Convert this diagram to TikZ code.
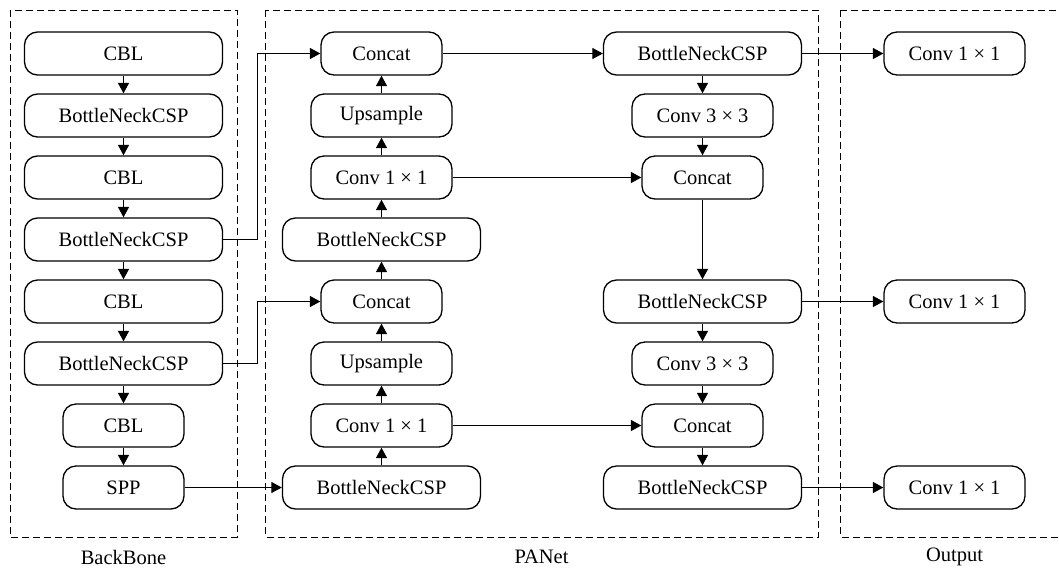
\documentclass[tikz,border=0pt]{standalone}
\usepackage{fontspec}
\setmainfont{Liberation Serif}
\usetikzlibrary{arrows.meta}

\begin{document}
\begin{tikzpicture}[x=1pt, y=-1pt,
    blk/.style={rectangle, rounded corners=13pt, draw, line width=1.3pt,
      minimum height=43pt, inner sep=0pt, font=\fontsize{20.5}{24}\selectfont},
    wide/.style={blk, minimum width=198pt},
    mid/.style={blk, minimum width=141pt},
    narrow/.style={blk, minimum width=121pt},
    frame/.style={draw, line width=1pt, dash pattern=on 7pt off 4pt},
    >={Triangle[length=10.5pt,width=11pt]}, line width=1.1pt]
  \useasboundingbox (0,0) rectangle (1059,571);
  % groups
  \draw[frame] (10,10) rectangle (237,537);
  \draw[frame] (265.5,10) rectangle (818,537);
  \draw[frame] (840.5,10) rectangle (1070,537);
  \node[font=\fontsize{20.5}{24}\selectfont] (lbb) at (123.5,557) {BackBone};
  \node[font=\fontsize{20.5}{24}\selectfont] (lpa) at (541.5,557) {PANet};
  \node[font=\fontsize{20.5}{24}\selectfont] (lout) at (954.5,557) {Output};
  % backbone
  \node[wide] (bb1) at (123.5,53.5) {CBL};
  \node[wide] (bb2) at (123.5,115.5) {BottleNeckCSP};
  \node[wide] (bb3) at (123.5,177.5) {CBL};
  \node[wide] (bb4) at (123.5,239.5) {BottleNeckCSP};
  \node[wide] (bb5) at (123.5,301.5) {CBL};
  \node[wide] (bb6) at (123.5,363.5) {BottleNeckCSP};
  \node[narrow] (bb7) at (123.5,425.5) {CBL};
  \node[narrow] (bb8) at (123.5,487.5) {SPP};
  % PANet, up path
  \node[narrow] (pl1) at (381.5,53.5) {Concat};
  \node[mid] (pl2) at (381.5,115.5) {Upsample};
  \node[mid] (pl3) at (381.5,177.5) {Conv 1 × 1};
  \node[wide] (pl4) at (381.5,239.5) {BottleNeckCSP};
  \node[narrow] (pl5) at (381.5,301.5) {Concat};
  \node[mid] (pl6) at (381.5,363.5) {Upsample};
  \node[mid] (pl7) at (381.5,425.5) {Conv 1 × 1};
  \node[wide] (pl8) at (381.5,487.5) {BottleNeckCSP};
  % PANet, down path
  \node[wide] (pr1) at (702.5,53.5) {BottleNeckCSP};
  \node[mid] (pr2) at (702.5,115.5) {Conv 3 × 3};
  \node[narrow] (pr3) at (702.5,177.5) {Concat};
  \node[wide] (pr5) at (702.5,301.5) {BottleNeckCSP};
  \node[mid] (pr6) at (702.5,363.5) {Conv 3 × 3};
  \node[narrow] (pr7) at (702.5,425.5) {Concat};
  \node[wide] (pr8) at (702.5,487.5) {BottleNeckCSP};
  % outputs
  \node[mid] (out1) at (954.5,53.5) {Conv 1 × 1};
  \node[mid] (out5) at (954.5,301.5) {Conv 1 × 1};
  \node[mid] (out8) at (954.5,487.5) {Conv 1 × 1};

  \draw[->] (bb1) -- (bb2);
  \draw[->] (bb2) -- (bb3);
  \draw[->] (bb3) -- (bb4);
  \draw[->] (bb4) -- (bb5);
  \draw[->] (bb5) -- (bb6);
  \draw[->] (bb6) -- (bb7);
  \draw[->] (bb7) -- (bb8);
  \draw[->] (bb4.east) -- ++(34,0) |- (pl1.west);
  \draw[->] (bb6.east) -- ++(34,0) |- (pl5.west);
  \draw[->] (bb8) -- (pl8);

  \draw[->] (pl8) -- (pl7);
  \draw[->] (pl7) -- (pl6);
  \draw[->] (pl6) -- (pl5);
  \draw[->] (pl5) -- (pl4);
  \draw[->] (pl4) -- (pl3);
  \draw[->] (pl3) -- (pl2);
  \draw[->] (pl2) -- (pl1);
  \draw[->] (pl1) -- (pr1);
  \draw[->] (pl3) -- (pr3);
  \draw[->] (pl7) -- (pr7);

  \draw[->] (pr1) -- (pr2);
  \draw[->] (pr2) -- (pr3);
  \draw[->] (pr3) -- (pr5);
  \draw[->] (pr5) -- (pr6);
  \draw[->] (pr6) -- (pr7);
  \draw[->] (pr7) -- (pr8);
  \draw[->] (pr1) -- (out1);
  \draw[->] (pr5) -- (out5);
  \draw[->] (pr8) -- (out8);
\end{tikzpicture}
\end{document}
